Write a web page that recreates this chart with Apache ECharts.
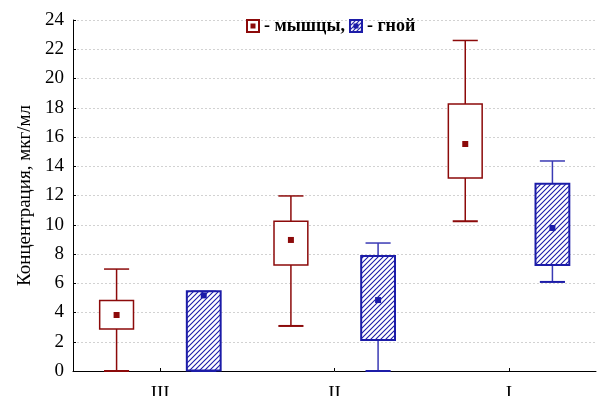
<!DOCTYPE html>
<html>
<head>
<meta charset="utf-8">
<script src="https://cdn.jsdelivr.net/npm/echarts@6/dist/echarts.min.js"></script>
<style>html,body{margin:0;padding:0;background:#fff}#c{width:601px;height:396px}</style>
</head>
<body>
<div id="c"></div>
<script>
// ---- data ----
const categories = ['III', 'II', 'I'];
const yTicks = [0, 2, 4, 6, 8, 10, 12, 14, 16, 18, 20, 22, 24];
// [min, q1, q3, max, mean]
const muscle = [
  [0, 2.87, 4.82, 6.97, 3.83],
  [3.08, 7.25, 10.24, 11.97, 8.96],
  [10.24, 13.2, 18.26, 22.6, 15.52]
];
const pus = [
  [0, 0.03, 5.45, 5.45, 5.17],
  [0, 2.12, 7.86, 8.75, 4.85],
  [6.09, 7.25, 12.8, 14.36, 9.78]
];
const seriesNames = ['- мышцы,', '- гной'];

const RED = '#8c0a0a';
const BLUE = '#1c1ca8';
const FONT = '"Liberation Serif", "Times New Roman", serif';

function hatchCanvas(size, color) {
  const c = document.createElement('canvas');
  c.width = size; c.height = size;
  const g = c.getContext('2d');
  g.fillStyle = '#fff'; g.fillRect(0, 0, size, size);
  g.strokeStyle = color; g.lineWidth = 1.1;
  g.beginPath();
  g.moveTo(-1, size + 1); g.lineTo(size + 1, -1);
  g.moveTo(-1, 1); g.lineTo(1, -1);
  g.moveTo(size - 1, size + 1); g.lineTo(size + 1, size - 1);
  g.stroke();
  return c;
}
const hatch = hatchCanvas(5, BLUE);

function iconURL(kind) {
  const c = document.createElement('canvas');
  c.width = 14; c.height = 14;
  const g = c.getContext('2d');
  if (kind === 0) {
    g.fillStyle = '#fff'; g.fillRect(0, 0, 14, 14);
    g.strokeStyle = RED; g.lineWidth = 2; g.strokeRect(1, 1, 12, 12);
    g.fillStyle = RED; g.fillRect(4.5, 4.5, 5, 5);
  } else {
    g.fillStyle = g.createPattern(hatchCanvas(4, BLUE), 'repeat');
    g.fillRect(0, 0, 14, 14);
    g.strokeStyle = BLUE; g.lineWidth = 2; g.strokeRect(1, 1, 12, 12);
    g.fillStyle = BLUE; g.fillRect(4.5, 4.5, 5, 5);
  }
  return 'image://' + c.toDataURL();
}

function makeRender(side, color, whiskerColor, filled, lw) {
  return function (params, api) {
    const cat = api.value(0);
    const band = api.size([1, 0])[0];
    const cx = api.coord([cat, 0])[0] + side * band * 0.25;
    const hw = band * 0.097;
    const cw = band * 0.072;
    const yMin = api.coord([cat, api.value(1)])[1];
    const yQ1 = api.coord([cat, api.value(2)])[1];
    const yQ3 = api.coord([cat, api.value(3)])[1];
    const yMax = api.coord([cat, api.value(4)])[1];
    const yMean = api.coord([cat, api.value(5)])[1];
    const wStyle = { stroke: whiskerColor, lineWidth: 1.5 };
    return {
      type: 'group',
      children: [
        { type: 'line', shape: { x1: cx, y1: yMax, x2: cx, y2: yQ3 }, style: wStyle },
        { type: 'line', shape: { x1: cx - cw, y1: yMax, x2: cx + cw, y2: yMax }, style: wStyle },
        { type: 'line', shape: { x1: cx, y1: yQ1, x2: cx, y2: yMin }, style: wStyle },
        { type: 'line', shape: { x1: cx - cw, y1: yMin, x2: cx + cw, y2: yMin }, style: { stroke: color, lineWidth: 2 } },
        { type: 'rect', shape: { x: cx - hw, y: yQ3, width: 2 * hw, height: yQ1 - yQ3 },
          style: { fill: filled ? { image: hatch, repeat: 'repeat' } : '#fff', stroke: color, lineWidth: lw } },
        { type: 'rect', shape: { x: cx - 3, y: yMean - 3, width: 6, height: 6 }, style: { fill: color } }
      ]
    };
  };
}

const chart = echarts.init(document.getElementById('c'));
chart.setOption({
  animation: false,
  grid: { left: 73, right: 5, top: 20, bottom: 25, containLabel: false, outerBoundsMode: 'none' },
  legend: {
    left: 241, top: 12, itemWidth: 14, itemHeight: 14, itemGap: 4,
    selectedMode: false,
    textStyle: { fontFamily: FONT, fontSize: 18, fontWeight: 'bold', color: '#000', padding: [0, 0, 0, -1] },
    data: [
      { name: seriesNames[0], icon: iconURL(0) },
      { name: seriesNames[1], icon: iconURL(1) }
    ]
  },
  xAxis: {
    type: 'category', data: categories,
    axisLine: { lineStyle: { color: '#000', width: 1 } },
    axisTick: { show: true, inside: true, alignWithLabel: true, length: 3, lineStyle: { color: '#000' } },
    axisLabel: { fontFamily: FONT, fontSize: 19, color: '#000', margin: 14 },
    splitLine: { show: false }
  },
  yAxis: {
    type: 'value', min: yTicks[0], max: yTicks[yTicks.length - 1], interval: 2,
    name: 'Концентрация, мкг/мл', nameLocation: 'middle', nameGap: 37,
    nameTextStyle: { fontFamily: FONT, fontSize: 19, color: '#000' },
    axisLine: { show: true, lineStyle: { color: '#000', width: 1 } },
    axisTick: { show: true, inside: true, length: 3, lineStyle: { color: '#000' } },
    axisLabel: { fontFamily: FONT, fontSize: 19, color: '#000', margin: 9 },
    splitLine: { show: true, lineStyle: { color: '#d2d2d2', type: [2, 2], width: 1 } }
  },
  series: [
    {
      name: seriesNames[0], type: 'custom', renderItem: makeRender(-1, RED, RED, false, 1.5),
      encode: { x: 0, y: [1, 2, 3, 4, 5] },
      data: muscle.map((d, i) => [i].concat(d))
    },
    {
      name: seriesNames[1], type: 'custom', renderItem: makeRender(1, BLUE, '#3a3ab4', true, 2),
      encode: { x: 0, y: [1, 2, 3, 4, 5] },
      data: pus.map((d, i) => [i].concat(d))
    }
  ]
});
</script>
</body>
</html>
